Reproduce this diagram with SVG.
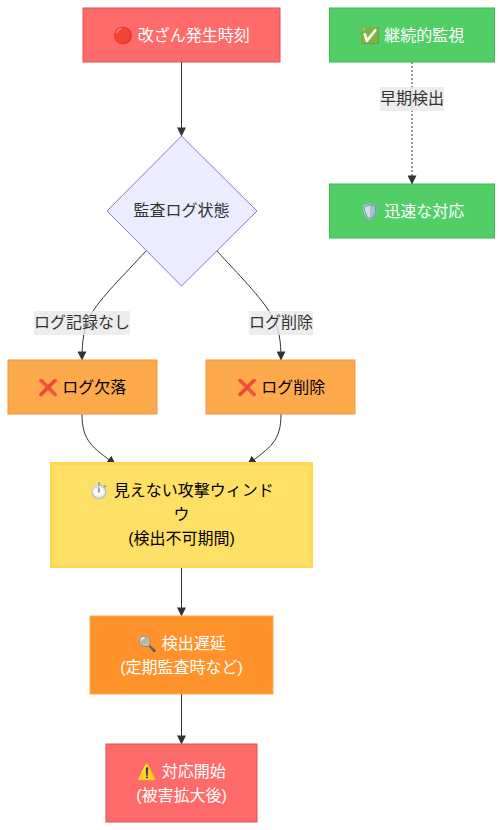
<svg xmlns="http://www.w3.org/2000/svg" width="502" height="830" viewBox="0 0 502 830">
<style>
text{font-family:"Liberation Sans","Noto Sans CJK JP",sans-serif;font-size:16px;text-anchor:middle;fill:#333}
.w{fill:#fff}.k{fill:#000}
.e{fill:none;stroke:#333;stroke-width:1}
.d{stroke-dasharray:2 2}
.lb{fill:#e8e8e8;fill-opacity:.8}
.ah{fill:#333}
</style>
<defs><marker id="a" viewBox="0 0 10 10" refX="9.500" refY="5" markerWidth="9" markerHeight="9" markerUnits="userSpaceOnUse" orient="auto"><path d="M0 0L10 5L0 10z" class="ah"/></marker></defs>
<rect width="502" height="830" fill="#fff"/>
<g id="connectors">
<path class="e" d="M181.5 62V136" marker-end="url(#a)"/>
<path class="e" d="M146 251C125 274 100 298 90 316C84 328 82 340 82 360" marker-end="url(#a)"/>
<path class="e" d="M217 251C238 274 262 298 272 316C279 328 281 340 281 360" marker-end="url(#a)"/>
<path class="e" d="M82 414C82 441 92 447 115.500 464.500" marker-end="url(#a)"/>
<path class="e" d="M281 414C281 441 271 447 247.500 464.500" marker-end="url(#a)"/>
<path class="e" d="M181.5 566V616" marker-end="url(#a)"/>
<path class="e" d="M181.5 694V744" marker-end="url(#a)"/>
<path class="e d" d="M412 62V184" marker-end="url(#a)"/>
</g>
<g id="edge-labels">
<rect class="lb" x="34" y="311" width="96" height="24"/><text x="82" y="328">ログ記録なし</text>
<rect class="lb" x="249" y="311" width="64" height="24"/><text x="281" y="328">ログ削除</text>
<rect class="lb" x="380" y="87" width="64" height="24"/><text x="412" y="104">早期検出</text>
</g>
<g id="n-start"><rect x="83" y="8" width="197" height="54" fill="#ff6b6b" stroke="#e05555"/><text class="w" x="181.5" y="41">🔴 改ざん発生時刻</text></g>
<g id="n-monitor"><rect x="329.500" y="8" width="165" height="54" fill="#51cf66" stroke="#40b855"/><text class="w" x="412" y="41">✅ 継続的監視</text></g>
<g id="n-response"><rect x="329.500" y="184" width="165" height="54" fill="#51cf66" stroke="#40b855"/><text class="w" x="412" y="217">🛡️ 迅速な対応</text></g>
<g id="n-state"><polygon points="181.500,136 257,211 181.500,286 107,211" fill="#ececff" stroke="#9370db"/><text x="181.500" y="216">監査ログ状態</text></g>
<g id="n-missing"><rect x="8" y="360" width="149" height="54" fill="#ffa94d" stroke="#f59540"/><text class="k" x="82" y="393">❌ ログ欠落</text></g>
<g id="n-deleted"><rect x="206" y="360" width="149" height="54" fill="#ffa94d" stroke="#f59540"/><text class="k" x="281" y="393">❌ ログ削除</text></g>
<g id="n-window"><rect x="51.500" y="463.500" width="260" height="103" fill="#ffe066" stroke="#ffd84f" stroke-width="3"/><text class="k" x="181.500" y="496">⏱️ 見えない攻撃ウィンド</text><text class="k" x="181.500" y="520">ウ</text><text class="k" x="181.500" y="544">(検出不可期間)</text></g>
<g id="n-delay"><rect x="90" y="616" width="183" height="78" fill="#ff922b" stroke="#ffa94d"/><text class="w" x="181.500" y="649">🔍 検出遅延</text><text class="w" x="181.500" y="673">(定期監査時など)</text></g>
<g id="n-begin"><rect x="106" y="744" width="151" height="78" fill="#ff6b6b" stroke="#d9534f"/><text class="w" x="181.500" y="777">⚠️ 対応開始</text><text class="w" x="181.500" y="801">(被害拡大後)</text></g>
</svg>
